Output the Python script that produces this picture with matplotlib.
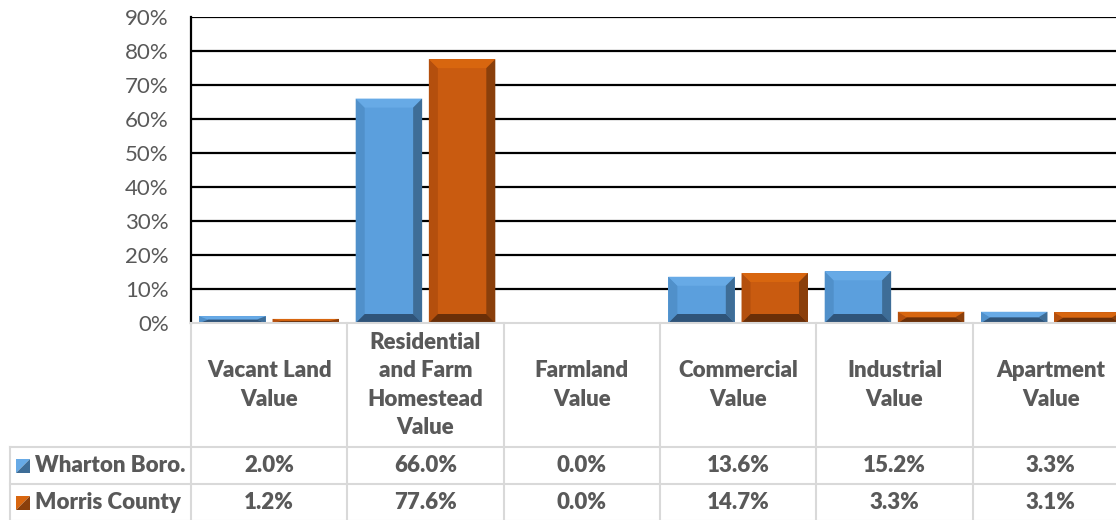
import numpy as np
import matplotlib.pyplot as plt
from matplotlib.patches import Polygon, Rectangle

plt.rcParams['font.family'] = ['Lato', 'DejaVu Sans']

# data
categories = ['Vacant Land\nValue', 'Residential\nand Farm\nHomestead\nValue', 'Farmland\nValue',
              'Commercial\nValue', 'Industrial\nValue', 'Apartment\nValue']
series_names = ['Wharton Boro.', 'Morris County']
wharton = [2.0, 66.0, 0.0, 13.6, 15.2, 3.3]
morris = [1.2, 77.6, 0.0, 14.7, 3.3, 3.1]
yticks = [0, 10, 20, 30, 40, 50, 60, 70, 80, 90]

# face, left, top, right, bottom
blue = ['#5B9FDD', '#5090CA', '#67AAE6', '#3E6D97', '#2F5479']
orange = ['#C95B10', '#B44F0D', '#D8660F', '#8A3F0B', '#6A2F08']
txt = '#595959'
grid_gray = '#D9D9D9'

W, H = 1116, 520
fig = plt.figure(figsize=(W / 100, H / 100), dpi=100)
ax_l, ax_r, ax_b, ax_t = 191, 1129, 323, 17
ax = fig.add_axes([ax_l / W, (H - ax_b) / H, (ax_r - ax_l) / W, (ax_b - ax_t) / H])
ncat = len(categories)
ax.set_xlim(-0.5, ncat - 0.5)
ax.set_ylim(0, 90)
for s in ['top', 'right', 'bottom']:
    ax.spines[s].set_visible(False)
ax.spines['left'].set_linewidth(1.6)
ax.spines['left'].set_color('black')
ax.set_xticks([])
ax.set_yticks(yticks)
ax.set_yticklabels(['%d%%' % v for v in yticks], fontsize=16, color=txt)
ax.tick_params(axis='y', length=0, pad=16)
for v in yticks[1:]:
    ax.axhline(v, color='black', lw=1.6, zorder=1)

px_x = (ax_r - ax_l) / ncat
px_y = (ax_b - ax_t) / 90.0


def bevel_bar(x0, w, h, c):
    if h <= 0:
        return
    bx = 9 / px_x
    by = min(9 / px_y, h / 2)
    bxx = min(bx, w / 2)
    x1 = x0 + w
    ax.add_patch(Rectangle((x0, 0), w, h, facecolor=c[0], edgecolor='none', zorder=3))
    # left
    ax.add_patch(Polygon([(x0, 0), (x0 + bxx, by), (x0 + bxx, h - by), (x0, h)],
                         closed=True, facecolor=c[1], edgecolor='none', zorder=4))
    # top
    ax.add_patch(Polygon([(x0, h), (x0 + bxx, h - by), (x1 - bxx, h - by), (x1, h)],
                         closed=True, facecolor=c[2], edgecolor='none', zorder=4))
    # right
    ax.add_patch(Polygon([(x1, 0), (x1 - bxx, by), (x1 - bxx, h - by), (x1, h)],
                         closed=True, facecolor=c[3], edgecolor='none', zorder=4))
    # bottom
    ax.add_patch(Polygon([(x0, 0), (x0 + bxx, by), (x1 - bxx, by), (x1, 0)],
                         closed=True, facecolor=c[4], edgecolor='none', zorder=4))


bw = 0.425
off = 0.234
x = np.arange(ncat)
for i in range(ncat):
    bevel_bar(x[i] - off - bw / 2, bw, wharton[i], blue)
    bevel_bar(x[i] + off - bw / 2, bw, morris[i], orange)

# data table below the axes, same x scale
tab = fig.add_axes([ax_l / W, 0, (ax_r - ax_l) / W, (H - ax_b) / H])
tab.set_xlim(-0.5, ncat - 0.5)
tab.set_ylim(H - ax_b, 0)
tab.axis('off')
head_h, row_h = 124, 37
lab_left = -0.5 - (ax_l - 10) / px_x
lines_kw = dict(color=grid_gray, lw=1.5, clip_on=False, zorder=1)
tab.plot([-0.5, ncat - 0.5], [0, 0], **lines_kw)
for r in range(3):
    yy = head_h + r * row_h
    tab.plot([lab_left, ncat - 0.5], [yy, yy], **lines_kw)
for k in range(ncat + 1):
    tab.plot([k - 0.5, k - 0.5], [0, head_h + 2 * row_h + 5], **lines_kw)
tab.plot([lab_left, lab_left], [head_h, head_h + 2 * row_h + 5], **lines_kw)

fs = 16
fw = 'heavy'
for i, c in enumerate(categories):
    tab.text(x[i], head_h / 2, c, ha='center', va='center', fontsize=fs,
             fontweight=fw, color=txt, linespacing=1.43, clip_on=False)

key = 14 / px_x
key_h = 14
for r, (name, vals, col) in enumerate(zip(series_names, [wharton, morris], [blue, orange])):
    yc = head_h + r * row_h + row_h / 2
    kx = lab_left + 6 / px_x
    tab.add_patch(Polygon([(kx, yc + key_h / 2), (kx, yc - key_h / 2), (kx + key, yc - key_h / 2)],
                          closed=True, facecolor=col[2], edgecolor='none', clip_on=False))
    tab.add_patch(Polygon([(kx, yc + key_h / 2), (kx + key, yc + key_h / 2), (kx + key, yc - key_h / 2)],
                          closed=True, facecolor=col[3], edgecolor='none', clip_on=False))
    tab.text(kx + key + 5 / px_x, yc, name, ha='left', va='center', fontsize=fs,
             fontweight=fw, color=txt, clip_on=False)
    for i, v in enumerate(vals):
        tab.text(x[i], yc, '%.1f%%' % v, ha='center', va='center', fontsize=fs,
                 fontweight=fw, color=txt, clip_on=False)

fig.savefig('out.png', dpi=100)
